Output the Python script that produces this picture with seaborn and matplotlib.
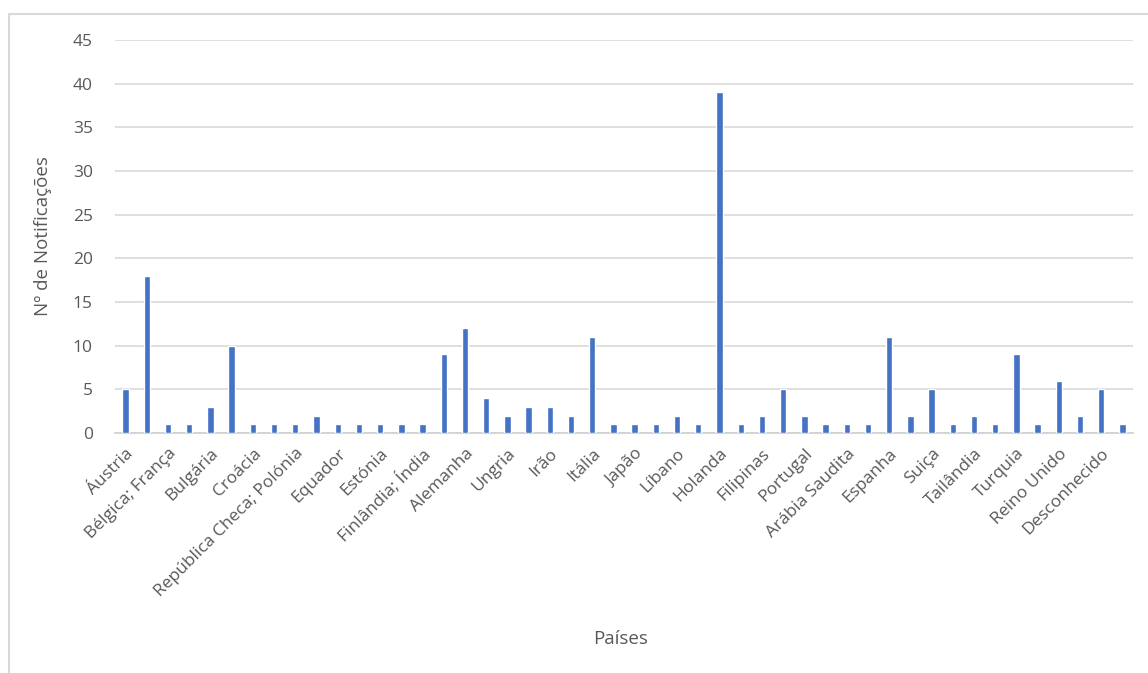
import numpy as np
import pandas as pd
import matplotlib
matplotlib.use('Agg')
import matplotlib.pyplot as plt
import seaborn as sns
from matplotlib.lines import Line2D

sns.set_style('white')
plt.rcParams['font.family'] = ['Open Sans', 'DejaVu Sans']

paises = ['Áustria', 'Bélgica', 'Bélgica; França', 'Brasil', 'Bulgária', 'China',
          'Croácia', 'Chipre', 'República Checa; Polónia', 'Dinamarca', 'Equador', 'Egito',
          'Estónia', 'Finlândia', 'Finlândia; Índia', 'França', 'Alemanha', 'Grécia',
          'Ungria', 'Índia', 'Irão', 'Irlanda', 'Itália', 'Itália; Espanha',
          'Japão', 'Letónia', 'Líbano', 'Lituânia', 'Holanda', 'Nigéria',
          'Filipinas', 'Polónia', 'Portugal', 'Roménia', 'Arábia Saudita', 'Sérvia',
          'Espanha', 'Suécia', 'Suiça', 'Taiwan', 'Tailândia', 'Tunísia',
          'Turquia', 'Ucrânia', 'Reino Unido', 'EUA', 'Desconhecido', 'Vietname']
notificacoes = [5, 18, 1, 1, 3, 10, 1, 1, 1, 2, 1, 1,
                1, 1, 1, 9, 12, 4, 2, 3, 3, 2, 11, 1,
                1, 1, 2, 1, 39, 1, 2, 5, 2, 1, 1, 1,
                11, 2, 5, 1, 2, 1, 9, 1, 6, 2, 5, 1]

df = pd.DataFrame({'pais': paises, 'n': notificacoes})

txt = '#595959'
fig = plt.figure(figsize=(11.48, 6.73), dpi=100)
ax = fig.add_axes([0.1002, 0.3566, 0.8868, 0.584])

sns.barplot(data=df, x='pais', y='n', color='#4472C4', width=0.3, saturation=1, ax=ax, zorder=3)

ax.set_ylim(0, 45)
ax.set_xlim(-0.5, len(paises) - 0.5)
ax.set_yticks(range(0, 46, 5))
ax.yaxis.grid(True, color='#d9d9d9', linewidth=1.2, zorder=0)
ax.xaxis.grid(False)
for s in ['top', 'right', 'left']:
    ax.spines[s].set_visible(False)
ax.spines['bottom'].set_color('#d0d0d0')
ax.spines['bottom'].set_linewidth(1.2)

shown = list(range(0, len(paises), 2))
ax.set_xticks(shown)
ax.set_xticklabels([paises[i] for i in shown], rotation=45, ha='right',
                   rotation_mode='anchor', fontsize=12.5, color=txt)
ax.tick_params(axis='x', length=0, pad=9)
ax.tick_params(axis='y', length=0, pad=16, labelsize=12.5, labelcolor=txt)

ax.set_xlabel('Países', fontsize=13.5, color=txt)
ax.xaxis.set_label_coords(0.497, -0.5)
ax.set_ylabel('Nº de Notificações', fontsize=13.5, color=txt)
ax.yaxis.set_label_coords(-0.062, 0.5)

# chart frame (top and left edges visible)
fig.add_artist(Line2D([9 / 1148, 1.0], [1 - 14 / 673] * 2, color='#d9d9d9', lw=1.5))
fig.add_artist(Line2D([9 / 1148] * 2, [0, 1 - 14 / 673], color='#d9d9d9', lw=1.5))

fig.savefig('out.png', dpi=100)
